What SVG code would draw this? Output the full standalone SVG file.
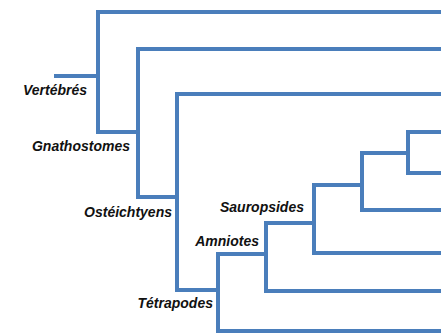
<svg xmlns="http://www.w3.org/2000/svg" width="441" height="334" viewBox="0 0 441 334">
<style>
.br{fill:none;stroke:#4a7ebb;stroke-width:4;stroke-linejoin:miter;stroke-linecap:butt}
.lb{font-family:"Liberation Sans",Arial,sans-serif;font-size:14px;font-weight:bold;font-style:italic;fill:#111;text-anchor:end}
</style>
<rect width="441" height="334" fill="#fff"/>
<g id="connectors">
<path class="br" d="M54,76 H98"/>
<path class="br" d="M441,12 H98 V132 H138"/>
<path class="br" d="M441,49 H138 V197 H177"/>
<path class="br" d="M441,94 H177 V290 H218"/>
<path class="br" d="M441,331 H218 V254 H266"/>
<path class="br" d="M441,291 H266 V223 H314"/>
<path class="br" d="M441,253 H314 V185 H362"/>
<path class="br" d="M441,210 H362 V153 H408"/>
<path class="br" d="M441,173 H408 V132 H441"/>
</g>
<g id="vertebres"><text class="lb" x="87" y="95">Vertébrés</text></g>
<g id="gnathostomes"><text class="lb" x="130" y="151">Gnathostomes</text></g>
<g id="osteichtyens"><text class="lb" x="172" y="217">Ostéichtyens</text></g>
<g id="tetrapodes"><text class="lb" x="213" y="308">Tétrapodes</text></g>
<g id="amniotes"><text class="lb" x="259" y="246">Amniotes</text></g>
<g id="sauropsides"><text class="lb" x="304" y="212">Sauropsides</text></g>
</svg>
